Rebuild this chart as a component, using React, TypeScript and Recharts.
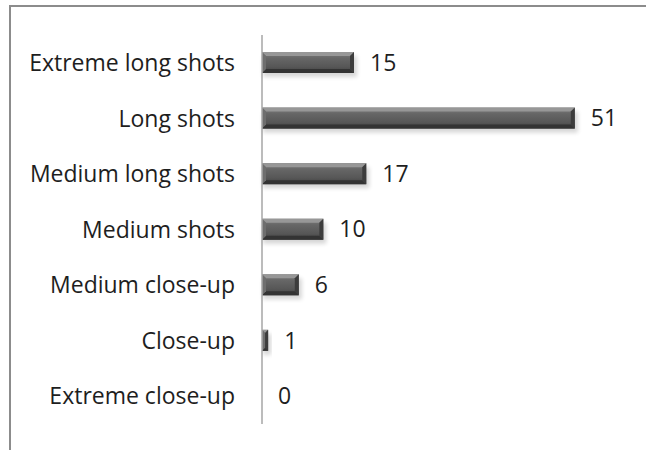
import React from "react";
import { BarChart, Bar, XAxis, YAxis, LabelList } from "recharts";

const shotTypes = [
  "Extreme long shots",
  "Long shots",
  "Medium long shots",
  "Medium shots",
  "Medium close-up",
  "Close-up",
  "Extreme close-up",
];
const shotCounts = [15, 51, 17, 10, 6, 1, 0];

const data = shotTypes.map((name, i) => ({ name, count: shotCounts[i] }));

const FONT = "'Open Sans', 'Liberation Sans', sans-serif";

// bevelled dark grey bar, like the old office chart style
const BevelBar = (props: any) => {
  const { x, y, width, height } = props;
  if (!width || width <= 0) return <g />;
  const b = Math.min(4, width / 2);
  return (
    <g>
      <rect x={x + 1} y={y + 4} width={width + 2} height={height} fill="#000" opacity={0.16} filter="url(#barBlur)" />
      <rect x={x} y={y} width={width} height={height} fill="url(#barFill)" />
      <polygon points={`${x},${y} ${x + width},${y} ${x + width - b},${y + b} ${x + b},${y + b}`} fill="#979797" />
      <polygon points={`${x},${y + height} ${x + width},${y + height} ${x + width - b},${y + height - b} ${x + b},${y + height - b}`} fill="#333" />
      <polygon points={`${x + width},${y} ${x + width},${y + height} ${x + width - b},${y + height - b} ${x + width - b},${y + b}`} fill="#3c3c3c" />
      <polygon points={`${x},${y} ${x},${y + height} ${x + b},${y + height - b} ${x + b},${y + b}`} fill="#6e6e6e" />
    </g>
  );
};

export default function App() {
  return (
    <div style={{ position: "absolute", left: 0, top: 0, width: 646, height: 450, background: "#fff", overflow: "hidden" }}>
      <div
        style={{
          position: "absolute",
          left: 9,
          top: 5,
          width: 700,
          height: 500,
          border: "2px solid #8c8c8c",
        }}
      />
      <div style={{ position: "absolute", left: 0, top: 0 }}>
        <BarChart
          width={646}
          height={450}
          data={data}
          layout="vertical"
          margin={{ top: 35, right: 16, bottom: 26, left: 0 }}
          barCategoryGap={17}
        >
          <defs>
            <linearGradient id="barFill" x1="0" y1="0" x2="0" y2="1">
              <stop offset="0%" stopColor="#7e7e7e" />
              <stop offset="30%" stopColor="#666" />
              <stop offset="70%" stopColor="#575757" />
              <stop offset="100%" stopColor="#404040" />
            </linearGradient>
            <filter id="barBlur" x="-10%" y="-50%" width="120%" height="200%">
              <feGaussianBlur stdDeviation="2" />
            </filter>
          </defs>
          <XAxis type="number" domain={[0, 60]} hide />
          <YAxis
            type="category"
            dataKey="name"
            width={262}
            axisLine={{ stroke: "#a6a6a6", strokeWidth: 1.5 }}
            tickLine={false}
            tickSize={0}
            tickMargin={27}
            interval={0}
            tick={{ fill: "#1e1e1e", fontSize: 23, fontFamily: FONT }}
          />
          <Bar dataKey="count" barSize={21} shape={BevelBar} isAnimationActive={false}>
            <LabelList
              dataKey="count"
              position="right"
              offset={16}
              style={{ fill: "#1e1e1e", fontSize: 23, fontFamily: FONT }}
            />
          </Bar>
        </BarChart>
      </div>
    </div>
  );
}
